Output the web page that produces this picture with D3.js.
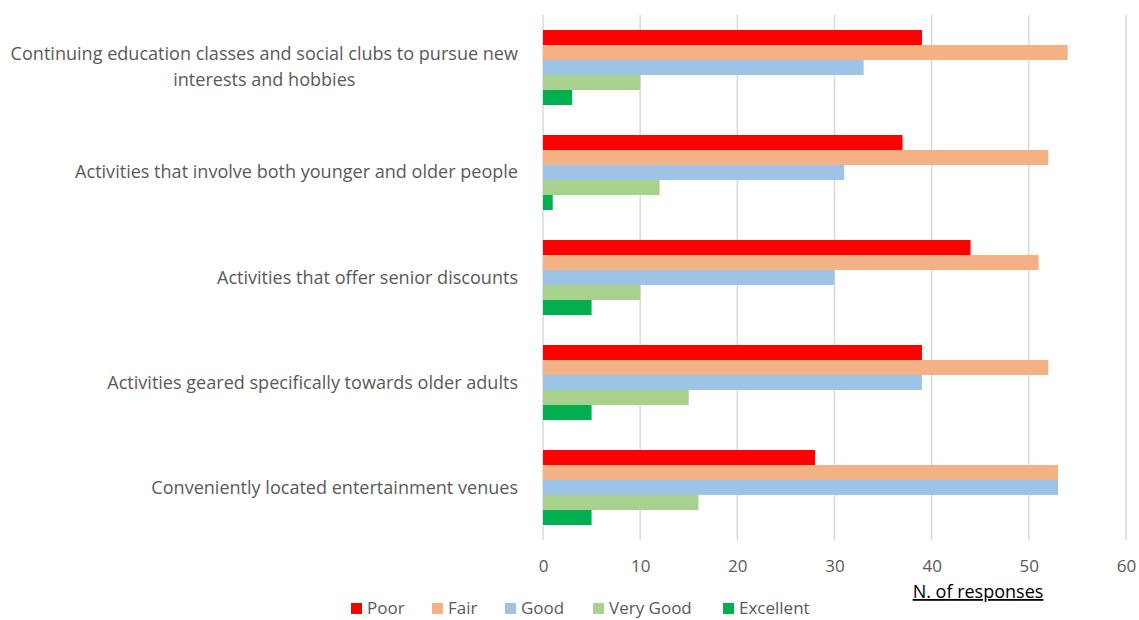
<!DOCTYPE html>
<html><head><meta charset="utf-8">
<script src="https://cdn.jsdelivr.net/npm/d3@7"></script>
<style>body{margin:0;background:#fff;} svg{display:block;}</style>
</head><body>
<svg id="c" width="1139" height="620"></svg>
<script>
const categories = [
  "Continuing education classes and social clubs to pursue new\ninterests and hobbies",
  "Activities that involve both younger and older people",
  "Activities that offer senior discounts",
  "Activities geared specifically towards older adults",
  "Conveniently located entertainment venues"
];
const seriesNames = ["Poor","Fair","Good","Very Good","Excellent"];
const poor = [39,37,44,39,28];
const fair = [54,52,51,52,53];
const good = [33,31,30,39,53];
const veryGood = [10,12,10,15,16];
const excellent = [3,1,5,5,5];
const xTicks = [0,10,20,30,40,50,60];
const colors = ["#FF0000","#F4B183","#9DC3E6","#A9D18E","#00B050"];
const seriesValues = [poor,fair,good,veryGood,excellent];

const svg = d3.select("#c");
const font = "'Open Sans', sans-serif";
const textColor = "#595959";

const x = d3.scaleLinear().domain([0,60]).range([543,1126]);
const y = d3.scaleBand().domain(categories).range([15,540]).paddingInner(0.2857).paddingOuter(0.1428);
const ys = d3.scaleBand().domain(seriesNames).range([0,y.bandwidth()]);

// gridlines
svg.append("g").selectAll("line").data(xTicks).join("line")
  .attr("x1",d=>x(d)).attr("x2",d=>x(d)).attr("y1",15).attr("y2",540)
  .attr("stroke","#D9D9D9").attr("stroke-width",1.5);

// bars
const g = svg.append("g");
categories.forEach((c,i)=>{
  seriesNames.forEach((s,j)=>{
    g.append("rect")
      .attr("x",x(0)).attr("y",y(c)+ys(s))
      .attr("width",x(seriesValues[j][i])-x(0)).attr("height",ys.bandwidth())
      .attr("fill",colors[j]);
  });
});

// x axis labels
const xAxis = d3.axisBottom(x).tickValues(xTicks).tickSize(0).tickPadding(0);
const ax = svg.append("g").attr("transform","translate(0,572)").call(xAxis);
ax.select(".domain").remove();
ax.selectAll("text").attr("fill",textColor).style("font-family",font).style("font-size","17px").attr("dy","0");

// category labels: fit longest line to reference width
const probe = svg.append("text").style("font-family",font).style("font-size","100px").text(categories[0].split("\n")[0]);
const fs = 100 * 508 / probe.node().getComputedTextLength();
probe.remove();
categories.forEach(c=>{
  const lines = c.split("\n");
  const cy = y(c)+y.bandwidth()/2;
  const lh = 26;
  const t = svg.append("g");
  const texts = lines.map((l,k)=> t.append("text").text(l)
    .attr("y", cy + (k-(lines.length-1)/2)*lh + 6)
    .attr("fill",textColor).style("font-family",font).style("font-size",fs+"px"));
  const widths = texts.map(tt=>tt.node().getComputedTextLength());
  const maxW = Math.max(...widths);
  const center = 518 - maxW/2;
  texts.forEach(tt=>tt.attr("x",center).attr("text-anchor","middle"));
});

// axis title
svg.append("text").text("N. of responses").attr("x",978).attr("y",598)
  .attr("text-anchor","middle").attr("fill","#000").style("font-family",font).style("font-size","18px")
  .style("text-decoration","underline");

// legend
const legX = [351,432,505,593,723];
const leg = svg.append("g");
seriesNames.forEach((s,j)=>{
  leg.append("rect").attr("x",legX[j]).attr("y",603).attr("width",11).attr("height",11).attr("fill",colors[j]);
  leg.append("text").text(s).attr("x",legX[j]+16).attr("y",614)
    .attr("fill",textColor).style("font-family",font).style("font-size","17px");
});
</script>
</body></html>
